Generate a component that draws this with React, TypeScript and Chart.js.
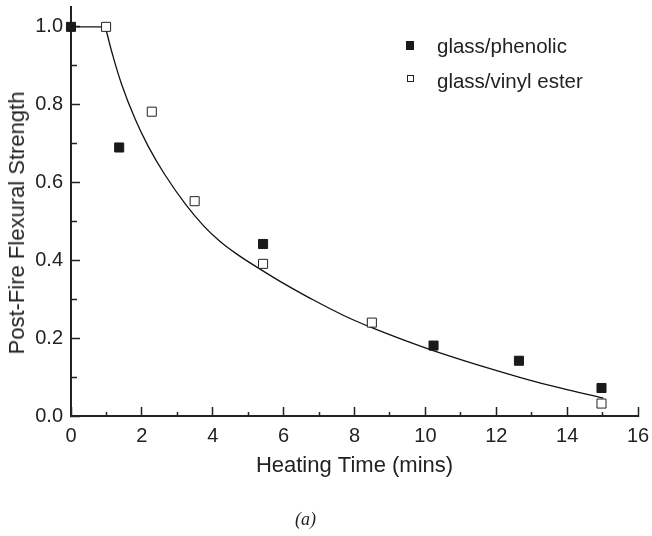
import React, { useEffect, useRef } from "react";
import { Chart, registerables } from "chart.js";

Chart.register(...registerables);

// ---- data ----
const seriesNames = ["glass/phenolic", "glass/vinyl ester"];

const phenolicTime = [0, 1.36, 5.42, 10.23, 12.64, 14.97];
const phenolicStrength = [1.0, 0.69, 0.442, 0.181, 0.142, 0.072];

const vinylTime = [0.99, 2.28, 3.49, 5.42, 8.49, 14.97];
const vinylStrength = [1.0, 0.782, 0.552, 0.391, 0.24, 0.032];

// fitted curve: flat plateau, then decay
const plateauTime = [0, 0.97];
const plateauStrength = [1.0, 1.0];
const fitTime = [0.97, 1.15, 1.43, 1.81, 2.18, 2.65, 3.24, 3.73, 4.2, 4.68, 5.29, 5.9, 6.74, 7.68, 8.49, 9.57, 10.22, 11.45, 12.76, 13.8, 15.02];
const fitStrength = [1.0, 0.936, 0.852, 0.763, 0.693, 0.62, 0.543, 0.49, 0.449, 0.416, 0.38, 0.346, 0.303, 0.259, 0.227, 0.189, 0.168, 0.132, 0.097, 0.072, 0.046];

const xTickLabels = ["0", "2", "4", "6", "8", "10", "12", "14", "16"];
const yTickLabels = ["0.0", "0.2", "0.4", "0.6", "0.8", "1.0"];

const xTitle = "Heating Time (mins)";
const yTitle = "Post-Fire Flexural Strength";
const caption = "(a)";

const FONT = "'Liberation Sans', Arial, Helvetica, sans-serif";
const INK = "#222";

const zip = (xs: number[], ys: number[]) => xs.map((x, i) => ({ x, y: ys[i] }));

export default function App() {
  const canvasRef = useRef<HTMLCanvasElement | null>(null);

  useEffect(() => {
    const canvas = canvasRef.current;
    if (!canvas) return;
    const chart = new Chart(canvas, {
      type: "scatter",
      data: {
        datasets: [
          {
            type: "scatter",
            label: seriesNames[0],
            data: zip(phenolicTime, phenolicStrength),
            pointStyle: "rect",
            pointRadius: 6.4,
            backgroundColor: "#1a1a1a",
            borderColor: "#1a1a1a",
            borderWidth: 1,
            clip: false,
            order: 0,
          },
          {
            type: "scatter",
            label: seriesNames[1],
            data: zip(vinylTime, vinylStrength),
            pointStyle: "rect",
            pointRadius: 6.4,
            backgroundColor: "#ffffff",
            borderColor: "#222",
            borderWidth: 1,
            clip: false,
            order: 0,
          },
          {
            type: "line",
            label: "plateau",
            data: zip(plateauTime, plateauStrength),
            borderColor: "#111",
            borderWidth: 1.3,
            pointRadius: 0,
            tension: 0,
            fill: false,
            clip: false,
            order: 1,
          },
          {
            type: "line",
            label: "fit",
            data: zip(fitTime, fitStrength),
            borderColor: "#111",
            borderWidth: 1.3,
            pointRadius: 0,
            tension: 0.4,
            fill: false,
            clip: false,
            order: 1,
          },
        ],
      } as any,
      options: {
        responsive: false,
        animation: false,
        devicePixelRatio: 1,
        events: [],
        layout: { padding: { left: 0, top: 3, right: 14, bottom: 0 } },
        plugins: {
          legend: { display: false },
          tooltip: { enabled: false },
          title: { display: false },
        },
        scales: {
          x: {
            type: "linear",
            min: 0,
            max: 16,
            ticks: {
              stepSize: 1,
              autoSkip: false,
              maxRotation: 0,
              padding: 17,
              color: INK,
              font: { family: FONT, size: 20 },
              callback: (v: any) => {
                const s = String(Math.round(Number(v)));
                return xTickLabels.includes(s) && Math.abs(Number(v) - Math.round(Number(v))) < 1e-6 ? s : "";
              },
            },
            grid: {
              display: true,
              drawOnChartArea: false,
              drawTicks: true,
              tickLength: -9,
              tickColor: INK,
              tickWidth: 1.5,
              tickBorderDash: (ctx: any) => {
                const v = ctx.tick ? ctx.tick.value : 0;
                return xTickLabels.includes(String(Math.round(v))) ? [] : [5, 30];
              },
            },
            border: { display: true, color: INK, width: 2 },
            title: {
              display: true,
              text: xTitle,
              color: INK,
              font: { family: FONT, size: 22 },
              padding: { top: 4, bottom: 57 },
            },
            afterFit: (s: any) => {
              s.height = 120;
              s.paddingLeft = 0;
              s.paddingRight = 0;
            },
          },
          y: {
            type: "linear",
            min: 0,
            max: 1.05,
            ticks: {
              stepSize: 0.1,
              includeBounds: false,
              autoSkip: false,
              padding: 17,
              color: INK,
              font: { family: FONT, size: 20 },
              callback: (v: any) => {
                const s = (Math.round(Number(v) * 10) / 10).toFixed(1);
                return yTickLabels.includes(s) ? s : "";
              },
            },
            grid: {
              display: true,
              drawOnChartArea: false,
              drawTicks: true,
              tickLength: -9,
              tickColor: INK,
              tickWidth: 1.5,
              tickBorderDash: (ctx: any) => {
                const v = ctx.tick ? ctx.tick.value : 0;
                const s = (Math.round(v * 10) / 10).toFixed(1);
                return yTickLabels.includes(s) ? [] : [0, 3, 6, 30];
              },
            },
            border: { display: true, color: INK, width: 2 },
            title: { display: false },
            afterFit: (s: any) => {
              s.width = 71;
              s.paddingTop = 0;
              s.paddingBottom = 0;
            },
          },
        },
      } as any,
    });
    return () => chart.destroy();
  }, []);

  const legendText: React.CSSProperties = {
    position: "absolute",
    left: 437,
    fontFamily: FONT,
    fontSize: 20.5,
    lineHeight: "24px",
    color: INK,
    whiteSpace: "nowrap",
  };

  return (
    <div style={{ position: "absolute", left: 0, top: 0, width: 652, height: 536, background: "#fff", overflow: "hidden" }}>
      <canvas ref={canvasRef} width={652} height={536} style={{ display: "block", position: "absolute", left: 0, top: 0 }} />
      <div
        style={{
          position: "absolute",
          left: 17.4,
          top: 223,
          transform: "translate(-50%, -50%) rotate(-90deg)",
          fontFamily: FONT,
          fontSize: 22,
          lineHeight: "26px",
          color: INK,
          whiteSpace: "nowrap",
        }}
      >
        {yTitle}
      </div>
      <div style={{ position: "absolute", left: 406, top: 40.5, width: 8, height: 9, background: "#1a1a1a" }} />
      <div style={{ ...legendText, top: 34.2 }}>{seriesNames[0]}</div>
      <div style={{ position: "absolute", left: 406.5, top: 74.5, width: 7, height: 7, boxSizing: "border-box", border: "1px solid #222", background: "#fff" }} />
      <div style={{ ...legendText, top: 69.2 }}>{seriesNames[1]}</div>
      <div
        style={{
          position: "absolute",
          left: 305.5,
          top: 509,
          transform: "translateX(-50%)",
          fontFamily: "'Liberation Serif', 'Times New Roman', serif",
          fontStyle: "italic",
          fontSize: 18,
          lineHeight: "20px",
          color: INK,
          whiteSpace: "nowrap",
        }}
      >
        {caption}
      </div>
    </div>
  );
}
